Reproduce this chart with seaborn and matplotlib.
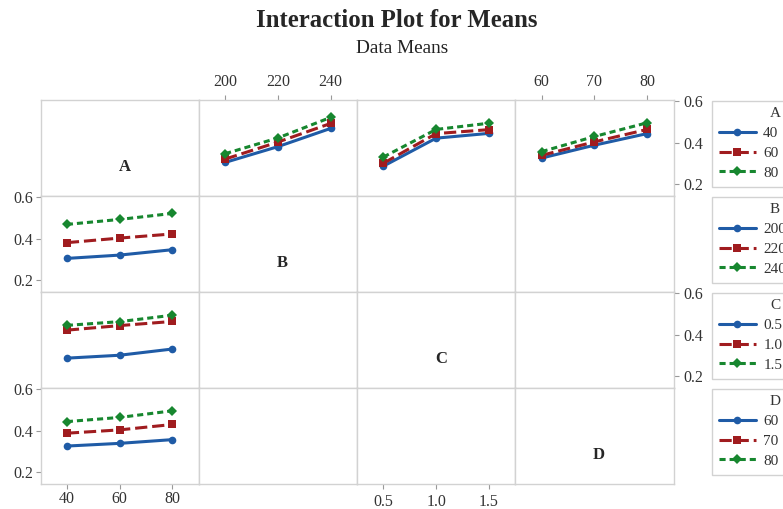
import numpy as np
import pandas as pd
import matplotlib.pyplot as plt
from matplotlib.lines import Line2D
import seaborn as sns

# factors and their levels
factors = ['A', 'B', 'C', 'D']
levels_A = [40, 60, 80]
levels_B = [200, 220, 240]
levels_C = [0.5, 1.0, 1.5]
levels_D = [60, 70, 80]
labels_A = ['40', '60', '80']
labels_B = ['200', '220', '240']
labels_C = ['0.5', '1.0', '1.5']
labels_D = ['60', '70', '80']

# data means: rows = level of A, columns = level of the other factor
means_AB = [[0.304, 0.380, 0.468],
            [0.320, 0.402, 0.492],
            [0.346, 0.422, 0.521]]
means_AC = [[0.286, 0.421, 0.444],
            [0.300, 0.443, 0.462],
            [0.330, 0.463, 0.493]]
means_AD = [[0.325, 0.387, 0.443],
            [0.338, 0.403, 0.463],
            [0.356, 0.429, 0.495]]

levels = {'A': levels_A, 'B': levels_B, 'C': levels_C, 'D': levels_D}
labels = {'A': labels_A, 'B': labels_B, 'C': labels_C, 'D': labels_D}
means = {'B': means_AB, 'C': means_AC, 'D': means_AD}

palette = ['#1f5ba6', '#a01c1f', '#17872f']
markers = ['o', 's', 'D']
dashes = ['', (4, 1.6), (2, 1.3)]
frame_col = '#d2d2d2'
txt_col = '#333333'

sns.set_style('white')
plt.rcParams['font.family'] = ['Liberation Serif', 'DejaVu Serif']


def panel_frame(row_f, col_f):
    """long table for the panel in row row_f, column col_f"""
    recs = []
    if row_f == 'A':
        tab = np.array(means[col_f])          # line = A level, x = col factor
        for i, lab in enumerate(labels['A']):
            for j, x in enumerate(levels[col_f]):
                recs.append({'x': x, 'y': tab[i, j], 'level': lab})
    else:
        tab = np.array(means[row_f]).T        # line = row factor level, x = A
        for i, lab in enumerate(labels[row_f]):
            for j, x in enumerate(levels['A']):
                recs.append({'x': x, 'y': tab[i, j], 'level': lab})
    return pd.DataFrame(recs)


fig, axes = plt.subplots(4, 4, figsize=(7.83, 5.09), dpi=100,
                         gridspec_kw=dict(hspace=0, wspace=0))
fig.subplots_adjust(left=40.5 / 783, right=673.5 / 783,
                    top=1 - 100 / 509, bottom=1 - 484 / 509)

ylim = (0.142, 0.605)

for r, rf in enumerate(factors):
    for c, cf in enumerate(factors):
        ax = axes[r, c]
        lv = levels[cf]
        span = lv[-1] - lv[0]
        ax.set_xlim(lv[0] - 0.25 * span, lv[-1] + 0.25 * span)
        ax.set_ylim(*ylim)

        is_plot = (r == 0 and c > 0) or (c == 0 and r > 0)
        if is_plot:
            df = panel_frame(rf, cf)
            sns.lineplot(data=df, x='x', y='y', hue='level', style='level',
                         hue_order=labels[rf], style_order=labels[rf],
                         palette=palette, markers=markers, dashes=dashes,
                         linewidth=2.2, markersize=5.5, markeredgewidth=0,
                         errorbar=None, legend=False, ax=ax)
        elif r == c:
            ax.text(0.53, 0.30, rf, transform=ax.transAxes, ha='center',
                    va='center', fontsize=12, fontweight='bold')

        ax.set_xlabel('')
        ax.set_ylabel('')
        ax.set_xticks(lv)
        ax.set_xticklabels(labels[cf])
        ax.set_yticks([0.2, 0.4, 0.6])
        ax.set_yticklabels(['0.2', '0.4', '0.6'])
        ax.tick_params(bottom=False, top=False, left=False, right=False,
                       labelbottom=False, labeltop=False,
                       labelleft=False, labelright=False,
                       labelsize=11.5, labelcolor=txt_col, color='#999999',
                       length=3.5, width=0.8)
        for sp in ax.spines.values():
            sp.set_color(frame_col)
            sp.set_linewidth(1.0)

        # alternate tick placement like the original
        if r == 3 and c in (0, 2):
            ax.tick_params(bottom=True, labelbottom=True, pad=3.5)
        if r == 0 and c in (1, 3):
            ax.tick_params(top=True, labeltop=True, pad=4)
        if c == 0 and r in (1, 3):
            ax.tick_params(left=True, labelleft=True, pad=1.5)
        if c == 3 and r in (0, 2):
            ax.tick_params(right=True, labelright=True, pad=3.5)

# one legend per row factor, to the right of the grid
for r, f in enumerate(factors):
    handles = [Line2D([], [], color=palette[k], marker=markers[k],
                      markersize=5.5, markeredgewidth=0, linewidth=2.2,
                      dashes=dashes[k] if dashes[k] else (None, None))
               for k in range(3)]
    top = axes[r, 0].get_position().y1
    leg = fig.legend(handles, labels[f], title=f, loc='upper left',
                     bbox_to_anchor=(712 / 783, top - 0.5 / 509, 126 / 783, 0),
                     mode='expand', fontsize=11, title_fontsize=11,
                     frameon=True, fancybox=False, edgecolor=frame_col,
                     framealpha=1, borderpad=0.45, labelspacing=0.4,
                     handlelength=2.4, handletextpad=0.5, borderaxespad=0)
    for t in leg.get_texts():
        t.set_color(txt_col)
    leg.get_title().set_color(txt_col)

fig.text(0.507, 1 - 20.5 / 509, 'Interaction Plot for Means', ha='center',
         va='center', fontsize=17.8, fontweight='bold')
fig.text(0.513, 1 - 48.5 / 509, 'Data Means', ha='center', va='center',
         fontsize=13.9, color='#222222')

fig.savefig('out.png', dpi=100)
